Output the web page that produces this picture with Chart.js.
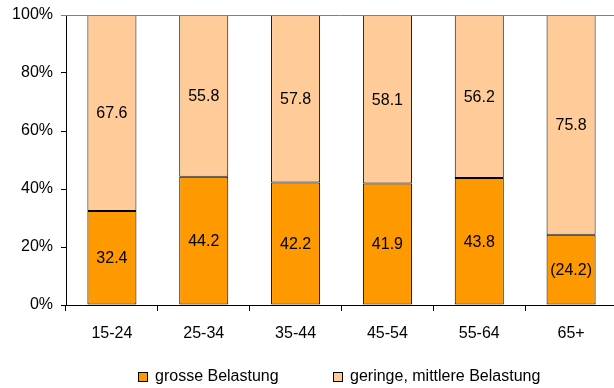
<!DOCTYPE html>
<html>
<head>
<meta charset="utf-8">
<script src="https://cdn.jsdelivr.net/npm/chart.js@4/dist/chart.umd.min.js"></script>
<style>
  html, body { margin: 0; padding: 0; background: #fff; overflow: hidden; }
  #wrap { position: relative; width: 614px; height: 388px; overflow: hidden; }
  canvas { display: block; }
</style>
</head>
<body>
<div id="wrap"><canvas id="c" width="618" height="388"></canvas></div>
<script>
// ---- data ----
const categories = ['15-24', '25-34', '35-44', '45-54', '55-64', '65+'];
const grosseBelastung = [32.4, 44.2, 42.2, 41.9, 43.8, 24.2];
const geringeMittlere = [67.6, 55.8, 57.8, 58.1, 56.2, 75.8];
const seriesNames = ['grosse Belastung', 'geringe, mittlere Belastung'];
const yTicks = [0, 20, 40, 60, 80, 100];
const bracketedCategories = ['65+']; // values shown in parentheses

const FONT = '"Liberation Sans", Arial, sans-serif';

const valueLabels = {
  id: 'valueLabels',
  afterDatasetsDraw(chart) {
    const ctx = chart.ctx;
    ctx.save();
    ctx.font = '16px ' + FONT;
    ctx.fillStyle = '#000';
    ctx.textAlign = 'center';
    ctx.textBaseline = 'middle';
    chart.data.datasets.forEach((ds, di) => {
      const meta = chart.getDatasetMeta(di);
      meta.data.forEach((bar, i) => {
        const v = ds.data[i];
        let txt = v.toFixed(1);
        if (di === 0 && bracketedCategories.includes(categories[i])) txt = '(' + txt + ')';
        const y = (bar.y + bar.base) / 2;
        ctx.fillText(txt, bar.x, y + 1);
      });
    });
    ctx.restore();
  }
};

const topLine = {
  id: 'topLine',
  afterDatasetsDraw(chart) {
    const ctx = chart.ctx;
    const ys = chart.scales.y;
    const y = Math.round(ys.getPixelForValue(yTicks[yTicks.length - 1])) + 0.5;
    ctx.save();
    ctx.strokeStyle = '#808080';
    ctx.lineWidth = 1;
    ctx.beginPath();
    ctx.moveTo(chart.chartArea.left - 5, y);
    ctx.lineTo(chart.width, y);
    ctx.stroke();
    ctx.restore();
  }
};

const bottomLegend = {
  id: 'bottomLegend',
  afterDraw(chart) {
    const ctx = chart.ctx;
    const pos = [138, 333];
    ctx.save();
    ctx.font = '16px ' + FONT;
    ctx.textAlign = 'left';
    ctx.textBaseline = 'middle';
    chart.data.datasets.forEach((ds, di) => {
      const x = pos[di];
      ctx.fillStyle = ds.backgroundColor;
      ctx.fillRect(x, 372, 10, 10);
      ctx.strokeStyle = '#000';
      ctx.lineWidth = 1;
      ctx.strokeRect(x + 0.5, 372.5, 9, 9);
      ctx.fillStyle = '#000';
      ctx.fillText(ds.label, x + 17, 377);
    });
    ctx.restore();
  }
};

new Chart(document.getElementById('c'), {
  type: 'bar',
  data: {
    labels: categories,
    datasets: [
      { label: seriesNames[0], data: grosseBelastung, backgroundColor: '#FF9900',
        borderColor: '#000', borderWidth: 1, borderSkipped: false,
        barPercentage: 0.534, categoryPercentage: 1 },
      { label: seriesNames[1], data: geringeMittlere, backgroundColor: '#FFCC99',
        borderColor: '#000', borderWidth: 1, borderSkipped: false,
        barPercentage: 0.534, categoryPercentage: 1 }
    ]
  },
  options: {
    responsive: false,
    animation: false,
    devicePixelRatio: 1,
    layout: { padding: { left: 0, right: 1, top: 15, bottom: 43 } },
    plugins: { legend: { display: false }, tooltip: { enabled: false } },
    scales: {
      x: {
        stacked: true,
        grid: { offset: true, drawOnChartArea: false, drawTicks: true, tickLength: 6, tickColor: '#000', lineWidth: 1 },
        border: { color: '#000', width: 1 },
        ticks: { color: '#000', font: { family: FONT, size: 16 }, padding: 13, maxRotation: 0 },
        afterFit(s) { s.height = 40; s.paddingLeft = 0; s.paddingRight = 0; }
      },
      y: {
        stacked: true,
        min: 0, max: 100,
        afterBuildTicks(s) { s.ticks = yTicks.map(v => ({ value: v })); },
        grid: { drawOnChartArea: false, drawTicks: true, tickColor: '#000', tickLength: 5, lineWidth: 1 },
        border: { color: '#000', width: 1 },
        ticks: { color: '#000', font: { family: FONT, size: 16 }, padding: 8,
                 callback: v => v + '%' },
        afterFit(s) { s.width = 66; s.paddingTop = 0; s.paddingBottom = 0; }
      }
    }
  },
  plugins: [valueLabels, topLine, bottomLegend]
});
</script>
</body>
</html>
